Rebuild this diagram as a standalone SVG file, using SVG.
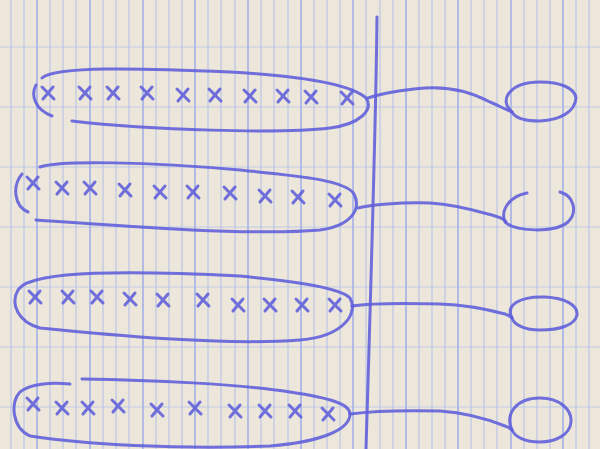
<svg xmlns="http://www.w3.org/2000/svg" width="600" height="449" viewBox="0 0 600 449">
<defs>
<style>
.ink{fill:none;stroke:#5f5ddb;stroke-width:3;stroke-linecap:round;stroke-linejoin:round;opacity:.88}
.gv{stroke:#b2bde9;stroke-width:1}
.gvd{stroke:#9eace8;stroke-width:1.5}
.gh{stroke:#c3cbe6;stroke-width:1}
</style>
<path id="x" d="M-6 -6 L6 6 M5 -6 L-5 6" class="ink"/>
</defs>
<rect width="600" height="449" fill="#ece7da"/>
<g id="grid">
<line class="gh" x1="0" y1="47" x2="600" y2="47"/>
<line class="gh" x1="0" y1="107" x2="600" y2="107"/>
<line class="gh" x1="0" y1="167" x2="600" y2="167"/>
<line class="gh" x1="0" y1="227" x2="600" y2="227"/>
<line class="gh" x1="0" y1="287" x2="600" y2="287"/>
<line class="gh" x1="0" y1="347" x2="600" y2="347"/>
<line class="gh" x1="0" y1="407" x2="600" y2="407"/>
<line class="gv" x1="11" y1="0" x2="11" y2="449"/>
<line class="gv" x1="24" y1="0" x2="24" y2="449"/>
<line class="gvd" x1="37" y1="0" x2="37" y2="449"/>
<line class="gv" x1="50" y1="0" x2="50" y2="449"/>
<line class="gv" x1="63" y1="0" x2="63" y2="449"/>
<line class="gv" x1="76" y1="0" x2="76" y2="449"/>
<line class="gvd" x1="90" y1="0" x2="90" y2="449"/>
<line class="gv" x1="103" y1="0" x2="103" y2="449"/>
<line class="gv" x1="116" y1="0" x2="116" y2="449"/>
<line class="gv" x1="129" y1="0" x2="129" y2="449"/>
<line class="gvd" x1="143" y1="0" x2="143" y2="449"/>
<line class="gv" x1="156" y1="0" x2="156" y2="449"/>
<line class="gv" x1="169" y1="0" x2="169" y2="449"/>
<line class="gv" x1="182" y1="0" x2="182" y2="449"/>
<line class="gvd" x1="195" y1="0" x2="195" y2="449"/>
<line class="gv" x1="208" y1="0" x2="208" y2="449"/>
<line class="gv" x1="221" y1="0" x2="221" y2="449"/>
<line class="gv" x1="235" y1="0" x2="235" y2="449"/>
<line class="gvd" x1="248" y1="0" x2="248" y2="449"/>
<line class="gv" x1="261" y1="0" x2="261" y2="449"/>
<line class="gv" x1="274" y1="0" x2="274" y2="449"/>
<line class="gv" x1="288" y1="0" x2="288" y2="449"/>
<line class="gvd" x1="301" y1="0" x2="301" y2="449"/>
<line class="gv" x1="314" y1="0" x2="314" y2="449"/>
<line class="gv" x1="327" y1="0" x2="327" y2="449"/>
<line class="gv" x1="340" y1="0" x2="340" y2="449"/>
<line class="gvd" x1="353" y1="0" x2="353" y2="449"/>
<line class="gv" x1="366" y1="0" x2="366" y2="449"/>
<line class="gv" x1="380" y1="0" x2="380" y2="449"/>
<line class="gv" x1="393" y1="0" x2="393" y2="449"/>
<line class="gvd" x1="406" y1="0" x2="406" y2="449"/>
<line class="gv" x1="419" y1="0" x2="419" y2="449"/>
<line class="gv" x1="432" y1="0" x2="432" y2="449"/>
<line class="gv" x1="445" y1="0" x2="445" y2="449"/>
<line class="gvd" x1="458" y1="0" x2="458" y2="449"/>
<line class="gv" x1="471" y1="0" x2="471" y2="449"/>
<line class="gv" x1="484" y1="0" x2="484" y2="449"/>
<line class="gv" x1="497" y1="0" x2="497" y2="449"/>
<line class="gvd" x1="511" y1="0" x2="511" y2="449"/>
<line class="gv" x1="524" y1="0" x2="524" y2="449"/>
<line class="gv" x1="537" y1="0" x2="537" y2="449"/>
<line class="gv" x1="550" y1="0" x2="550" y2="449"/>
<line class="gvd" x1="563" y1="0" x2="563" y2="449"/>
<line class="gv" x1="576" y1="0" x2="576" y2="449"/>
<line class="gv" x1="589" y1="0" x2="589" y2="449"/>
</g>
<g id="axis">
<path class="ink" d="M377 17 C376 120 372 250 366 449"/>
</g>
<g id="row1">
<path class="ink" d="M42 78 C55 66 140 68 230 72 C300 76 350 84 366 98 C374 110 360 124 330 128 C280 134 150 130 72 121 M36 85 C30 96 36 110 52 116"/>
<use href="#x" x="48" y="93"/><use href="#x" x="85" y="93"/><use href="#x" x="113" y="93"/><use href="#x" x="147" y="93"/><use href="#x" x="183" y="95"/><use href="#x" x="215" y="95"/><use href="#x" x="250" y="96"/><use href="#x" x="283" y="96"/><use href="#x" x="311" y="97"/><use href="#x" x="347" y="98"/>
</g>
<g id="row2">
<path class="ink" d="M40 167 C60 160 150 162 240 170 C300 176 345 180 354 194 C362 210 350 226 320 230 C250 236 120 226 36 220 M22 174 C12 186 14 206 28 212"/>
<use href="#x" x="33" y="183"/><use href="#x" x="62" y="188"/><use href="#x" x="90" y="188"/><use href="#x" x="125" y="190"/><use href="#x" x="160" y="192"/><use href="#x" x="193" y="192"/><use href="#x" x="230" y="193"/><use href="#x" x="265" y="196"/><use href="#x" x="298" y="197"/><use href="#x" x="335" y="200"/>
</g>
<g id="row3">
<path class="ink" d="M30 282 C60 270 160 272 240 276 C300 282 340 288 350 298 C358 312 346 336 300 340 C220 346 100 334 40 328 C18 322 10 304 18 290 C22 285 26 283 30 282"/>
<use href="#x" x="35" y="297"/><use href="#x" x="68" y="297"/><use href="#x" x="97" y="297"/><use href="#x" x="130" y="299"/><use href="#x" x="163" y="300"/><use href="#x" x="203" y="300"/><use href="#x" x="238" y="305"/><use href="#x" x="270" y="305"/><use href="#x" x="302" y="305"/><use href="#x" x="335" y="305"/>
</g>
<g id="row4">
<path class="ink" d="M82 379 C150 380 240 384 290 392 C330 398 350 404 350 414 C350 430 320 442 270 446 C180 450 80 444 30 436 C12 428 10 402 20 392 C30 384 50 382 70 384"/>
<use href="#x" x="33" y="404"/><use href="#x" x="62" y="408"/><use href="#x" x="88" y="408"/><use href="#x" x="118" y="406"/><use href="#x" x="157" y="410"/><use href="#x" x="195" y="408"/><use href="#x" x="235" y="411"/><use href="#x" x="265" y="411"/><use href="#x" x="295" y="411"/><use href="#x" x="328" y="414"/>
</g>
<g id="leaf1"><path class="ink" d="M512 112 C498 100 510 82 540 82 C560 82 575 88 576 98 C575 112 560 120 540 121 C525 121 515 118 512 112"/></g>
<g id="leaf2"><path class="ink" d="M527 193 C510 196 500 210 505 222 C515 232 555 233 568 222 C578 212 574 196 560 192"/></g>
<g id="leaf3"><path class="ink" d="M512 318 C505 305 520 296 545 297 C565 298 578 305 577 315 C575 325 560 330 540 330 C525 330 514 325 512 318"/></g>
<g id="leaf4"><path class="ink" d="M512 430 C505 415 515 398 540 398 C560 398 572 410 571 422 C570 435 555 442 540 442 C525 442 515 437 512 430"/></g>
<g id="connectors">
<path class="ink" d="M368 98 C380 94 400 90 425 88 C455 86 475 94 490 102 C500 106 506 110 512 112"/>
<path class="ink" d="M358 208 C370 205 400 202 430 203 C460 205 480 212 495 216 C502 218 505 220 506 222"/>
<path class="ink" d="M352 306 C365 304 400 303 440 304 C470 305 490 310 505 314 C508 315 510 316 512 318"/>
<path class="ink" d="M350 414 C365 412 400 410 440 411 C470 413 490 420 505 426 C508 427 510 428 512 430"/>
</g>
</svg>
